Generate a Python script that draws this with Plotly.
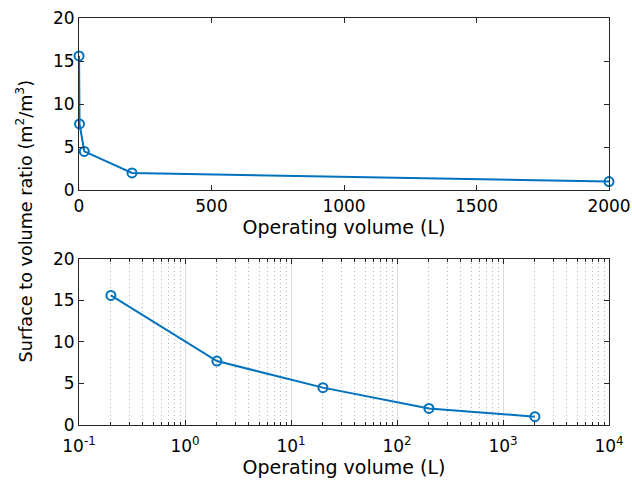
import plotly.graph_objects as go
from plotly.subplots import make_subplots

volume_L = [0.2, 2, 20, 200, 2000]
sv_ratio = [15.6, 7.7, 4.5, 2.0, 1.0]

lin_xticks = [0, 500, 1000, 1500, 2000]
y_ticks = [0, 5, 10, 15, 20]
log_xticks = [0.1, 1, 10, 100, 1000, 10000]
log_xticktext = ["10<sup>-1</sup>", "10<sup>0</sup>", "10<sup>1</sup>", "10<sup>2</sup>", "10<sup>3</sup>", "10<sup>4</sup>"]
minor_log = [m * 10 ** e for e in range(-1, 3 + 1) for m in range(2, 10)]

blue = "#0072BD"
axc = "#262626"
font = "DejaVu Sans, sans-serif"
tick_font = dict(size=17, color="black", family=font)
title_font = dict(size=19, color="black", family=font)
ytitle_font = dict(size=17.6, color="black", family=font)

fig = make_subplots(rows=2, cols=1)
for r in (1, 2):
    fig.add_trace(go.Scatter(x=volume_L, y=sv_ratio, mode="lines+markers",
                             line=dict(color=blue, width=2),
                             marker=dict(symbol="circle-open", size=9, color=blue, line=dict(width=2)),
                             showlegend=False, cliponaxis=False), row=r, col=1)

common_ax = dict(showline=True, linecolor=axc, linewidth=1, mirror="ticks", ticks="inside",
                 ticklen=5, tickcolor=axc, tickfont=tick_font, zeroline=False, automargin=False)

fig.update_xaxes(range=[0, 2000], tickvals=lin_xticks, showgrid=False,
                 title=dict(text="Operating volume (L)", font=title_font, standoff=2),
                 row=1, col=1, **common_ax)
fig.update_xaxes(type="log", range=[-1, 4], tickvals=log_xticks, ticktext=log_xticktext,
                 showgrid=True, gridcolor="#dcdcdc", gridwidth=1, ticklabelstandoff=6,
                 minor=dict(tickvals=minor_log, ticks="inside", ticklen=3, tickcolor=axc,
                            showgrid=True, gridcolor="#b4b4b4", griddash="1px,3px", gridwidth=1),
                 title=dict(text="Operating volume (L)", font=title_font, standoff=5),
                 row=2, col=1, **common_ax)
fig.update_yaxes(range=[0, 20], tickvals=y_ticks, showgrid=False, **common_ax)
fig.update_layout(yaxis=dict(domain=[0.577, 1.0]), yaxis2=dict(domain=[0.0, 0.408]))

fig.update_layout(
    width=632, height=489,
    margin=dict(l=79, r=23, t=18, b=64),
    paper_bgcolor="white", plot_bgcolor="white",
    font=dict(family=font, color="black"),
    annotations=[dict(text="Surface to volume ratio (m<sup>2</sup>/m<sup>3</sup>)",
                      textangle=-90, x=-0.104, y=0.5, xref="paper", yref="paper",
                      showarrow=False, font=ytitle_font,
                      xanchor="center", yanchor="middle")],
)

fig.write_html("out.html")
